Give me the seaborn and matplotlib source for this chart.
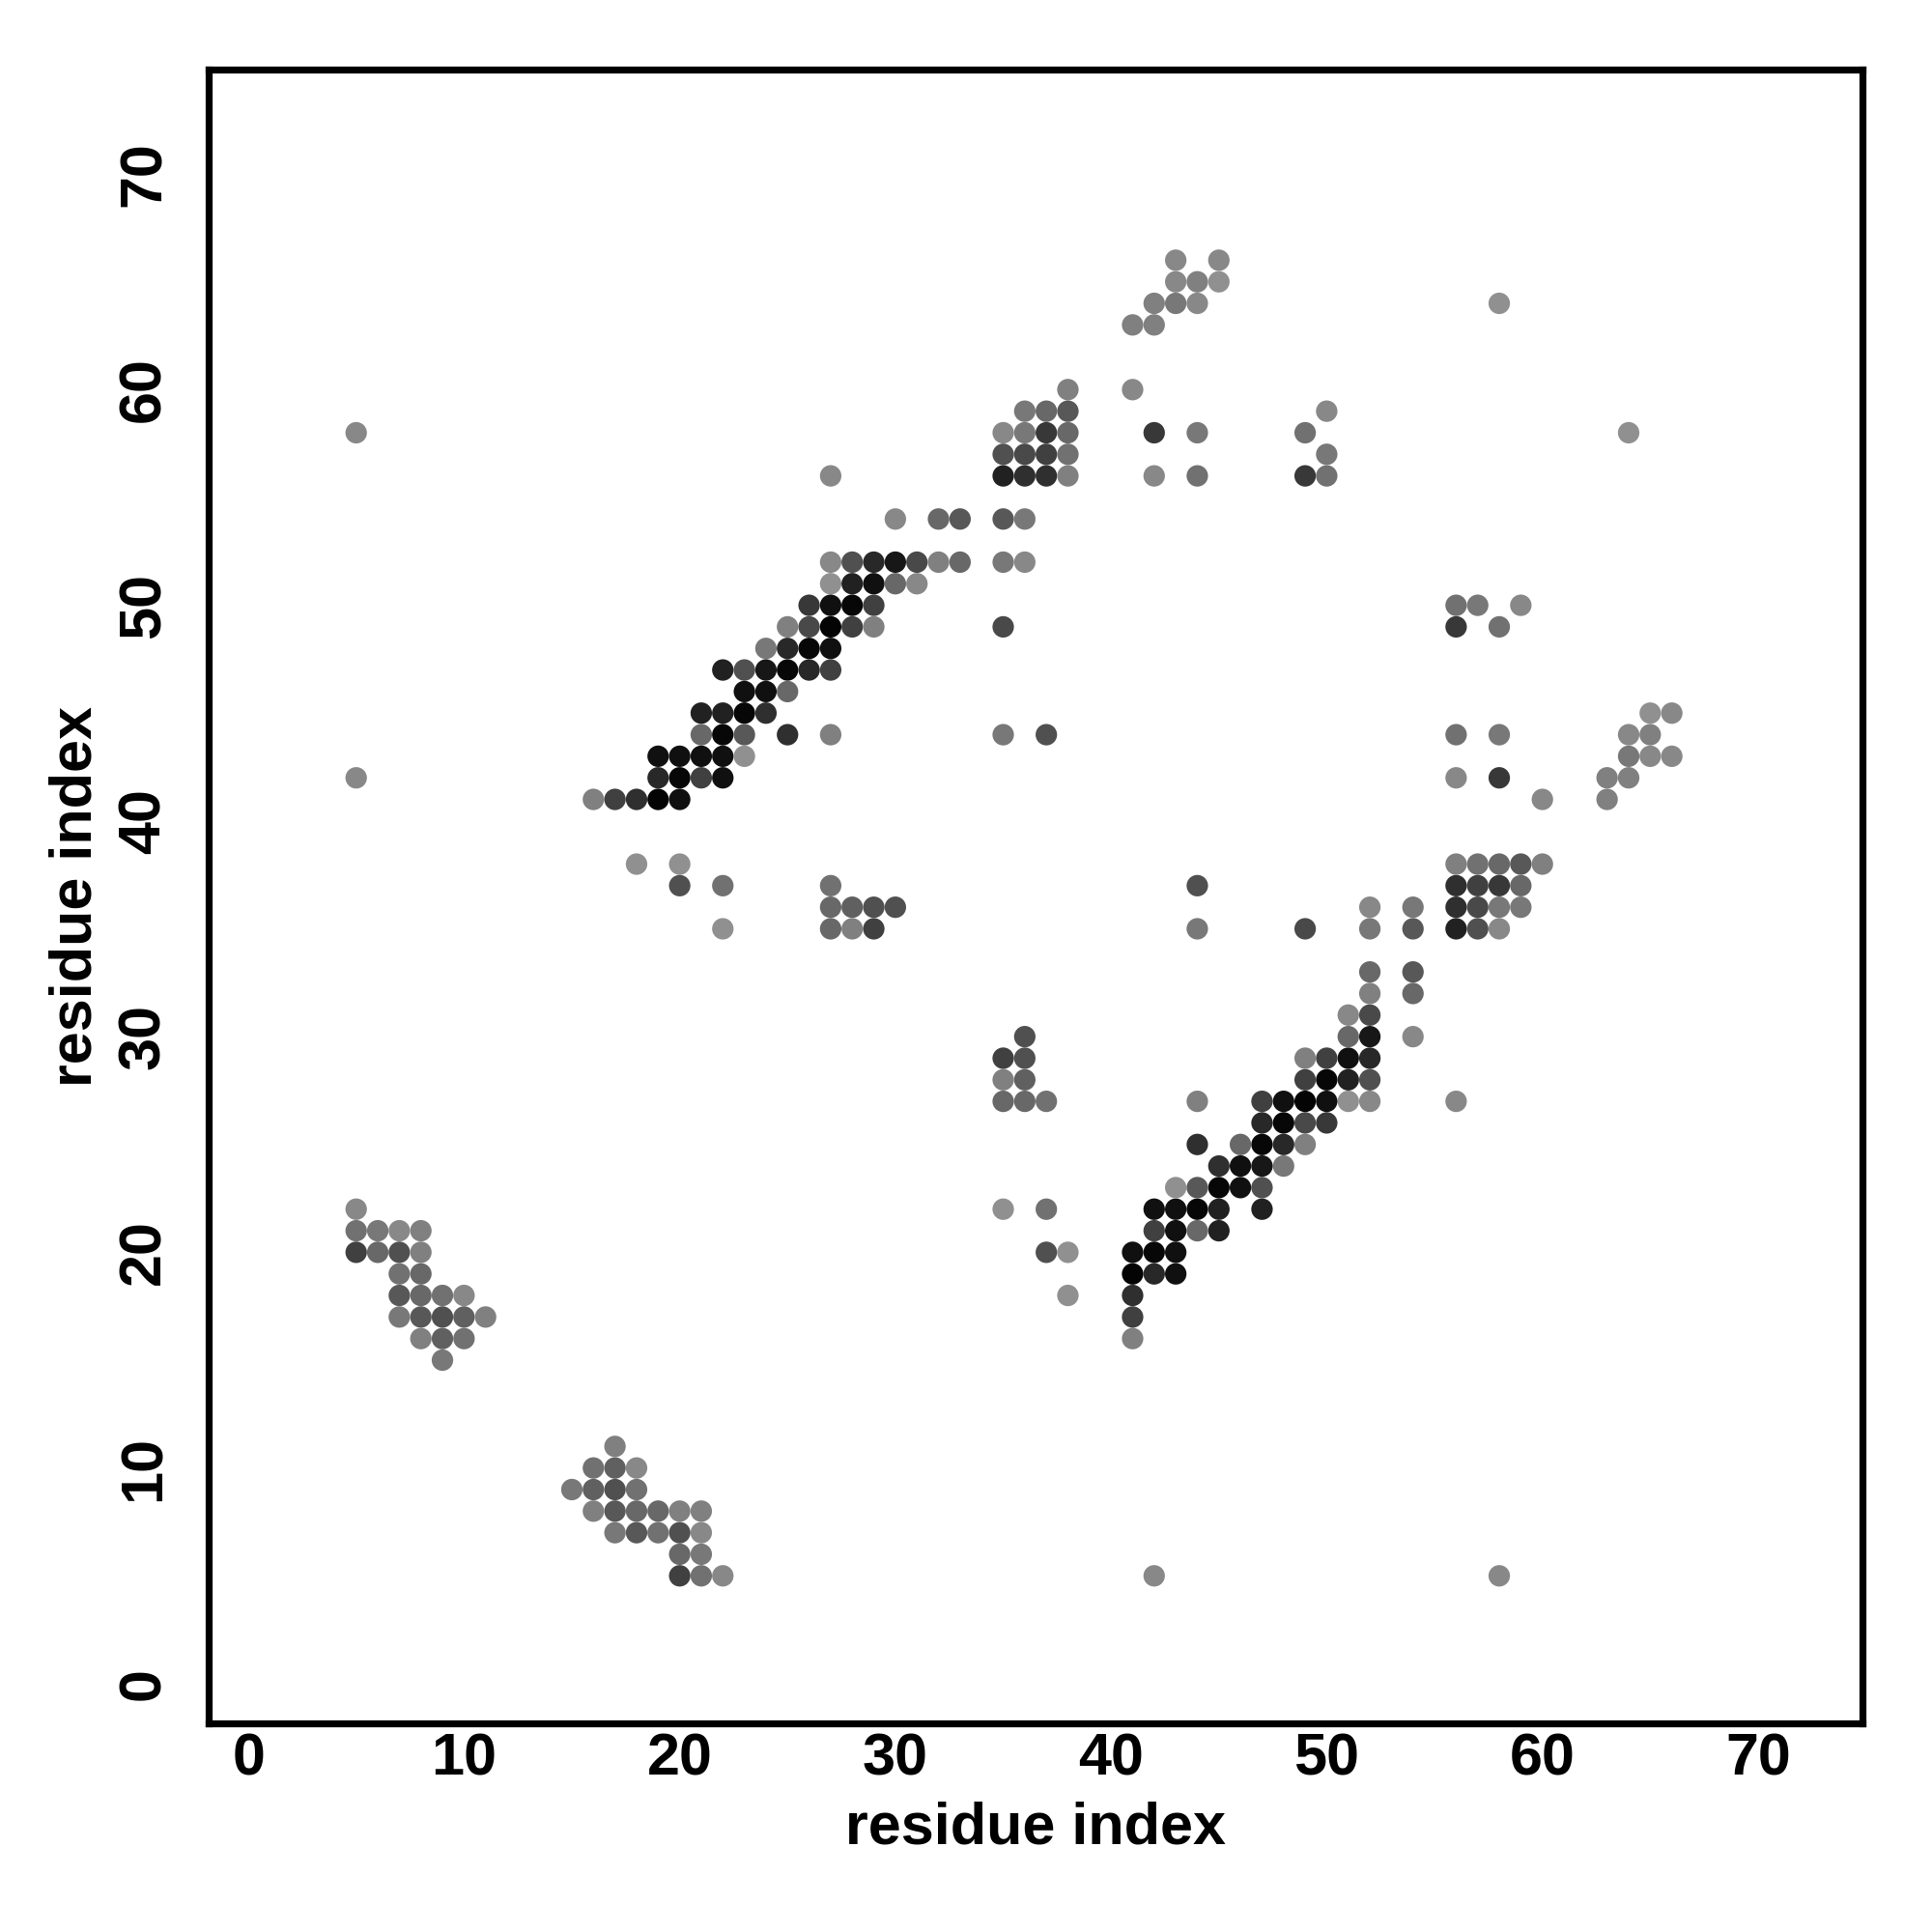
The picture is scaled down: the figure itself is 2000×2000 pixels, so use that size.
import numpy as np
import pandas as pd
import matplotlib
matplotlib.use("Agg")
import matplotlib.pyplot as plt
import matplotlib.colors as mcolors
import seaborn as sns

# contacts in the upper triangle (res_j > res_i), map is symmetric
res_i = [43, 45,
         43, 44, 45,
         42, 43, 44, 58,
         41, 42,
         38, 41,
         36, 37, 38, 50,
         5, 35, 36, 37, 38, 42, 44, 49,
         35, 36, 37, 38, 50,
         27, 35, 36, 37, 38, 42, 44, 49, 50,
         30, 32, 33, 35, 36,
         27, 28, 29, 30, 31, 32, 33, 35, 36,
         27, 28, 29, 30, 31,
         26, 27, 28, 29,
         25, 26, 27, 28, 29, 35,
         24, 25, 26, 27,
         22, 23, 24, 25, 26, 27,
         23, 24, 25,
         21, 22, 23, 24,
         21, 22, 23, 25, 27, 35, 37,
         19, 20, 21, 22, 23,
         5, 19, 20, 21, 22,
         16, 17, 18, 19, 20,
         18, 20,
         20, 22, 27,
         27, 28, 29, 30,
         22, 27, 28, 29,
         5,
         5, 6, 7, 8,
         5, 6, 7, 8,
         7, 8,
         7, 8, 9, 10,
         7, 8, 9, 10, 11,
         8, 9, 10,
         9]

res_j = [66, 66,
         65, 65, 65,
         64, 64, 64, 64,
         63, 63,
         60, 60,
         59, 59, 59, 59,
         58, 58, 58, 58, 58, 58, 58, 58,
         57, 57, 57, 57, 57,
         56, 56, 56, 56, 56, 56, 56, 56, 56,
         54, 54, 54, 54, 54,
         52, 52, 52, 52, 52, 52, 52, 52, 52,
         51, 51, 51, 51, 51,
         50, 50, 50, 50,
         49, 49, 49, 49, 49, 49,
         48, 48, 48, 48,
         47, 47, 47, 47, 47, 47,
         46, 46, 46,
         45, 45, 45, 45,
         44, 44, 44, 44, 44, 44, 44,
         43, 43, 43, 43, 43,
         42, 42, 42, 42, 42,
         41, 41, 41, 41, 41,
         38, 38,
         37, 37, 37,
         36, 36, 36, 36,
         35, 35, 35, 35,
         22,
         21, 21, 21, 21,
         20, 20, 20, 20,
         19, 19,
         18, 18, 18, 18,
         17, 17, 17, 17, 17,
         16, 16, 16,
         15]

prob = [0.08, 0.08,
        0.08, 0.14, 0.03,
        0.14, 0.19, 0.08, 0.03,
        0.14, 0.14,
        0.14, 0.08,
        0.19, 0.30, 0.41, 0.08,
        0.08, 0.08, 0.19, 0.62, 0.30, 0.62, 0.19, 0.24,
        0.46, 0.51, 0.57, 0.24, 0.19,
        0.08, 0.78, 0.68, 0.68, 0.14, 0.08, 0.24, 0.62, 0.24,
        0.08, 0.30, 0.41, 0.41, 0.19,
        0.08, 0.46, 0.73, 0.84, 0.51, 0.14, 0.30, 0.19, 0.08,
        0.03, 0.78, 0.89, 0.30, 0.08,
        0.62, 0.89, 0.95, 0.57,
        0.14, 0.51, 0.97, 0.57, 0.14, 0.51,
        0.19, 0.73, 0.95, 0.89,
        0.78, 0.46, 0.84, 0.95, 0.73, 0.57,
        0.89, 0.89, 0.30,
        0.78, 0.78, 0.95, 0.68,
        0.30, 0.95, 0.41, 0.68, 0.14, 0.19, 0.46,
        0.89, 0.89, 0.89, 0.89, 0.03,
        0.08, 0.73, 0.95, 0.57, 0.89,
        0.14, 0.57, 0.68, 0.97, 0.89,
        0.03, 0.03,
        0.46, 0.24, 0.24,
        0.30, 0.35, 0.46, 0.46,
        0.03, 0.30, 0.14, 0.57,
        0.08,
        0.24, 0.19, 0.08, 0.14,
        0.57, 0.30, 0.46, 0.14,
        0.24, 0.30,
        0.41, 0.30, 0.24, 0.08,
        0.19, 0.41, 0.46, 0.35, 0.14,
        0.14, 0.35, 0.24,
        0.19]

upper = pd.DataFrame({"i": res_i, "j": res_j, "p": prob})
lower = upper.rename(columns={"i": "j", "j": "i"})
df = pd.concat([upper, lower], ignore_index=True)

sns.set_style("white")
plt.rcParams['font.family'] = ['Liberation Sans', 'DejaVu Sans']
plt.rcParams['font.weight'] = 'bold'
plt.rcParams['text.color'] = 'black'
plt.rcParams['axes.labelcolor'] = 'black'
plt.rcParams['xtick.color'] = 'black'
plt.rcParams['ytick.color'] = 'black'

cmap = mcolors.LinearSegmentedColormap.from_list("contact", ["#949494", "#000000"])

fig = plt.figure(figsize=(10, 10), dpi=200)
ax = fig.add_axes([0.108, 0.108, 0.856, 0.856])

sns.scatterplot(data=df, x="i", y="j", hue="p", palette=cmap, hue_norm=(0, 1),
                s=64, linewidth=0, legend=False, ax=ax)

ax.set_xlim(-1.84, 74.84)
ax.set_ylim(-1.84, 74.84)
ax.set_xticks(np.arange(0, 71, 10))
ax.set_yticks(np.arange(0, 71, 10))
for sp in ax.spines.values():
    sp.set_visible(True)
    sp.set_linewidth(2.6)
    sp.set_color("black")

ax.tick_params(axis="both", direction="out", length=2.5, width=1.0, color="black",
               labelcolor="black", labelsize=22)
ax.tick_params(axis="x", pad=1)
ax.tick_params(axis="y", pad=11)
for lab in ax.get_yticklabels():
    lab.set_rotation(90)
    lab.set_va("center")
for lab in ax.get_xticklabels() + ax.get_yticklabels():
    lab.set_fontweight("bold")

ax.set_xlabel("residue index", fontsize=22, fontweight="bold", labelpad=5, color="black")
ax.set_ylabel("residue index", fontsize=22, fontweight="bold", labelpad=5, color="black")

fig.savefig("out.png", dpi=200, facecolor="white")
